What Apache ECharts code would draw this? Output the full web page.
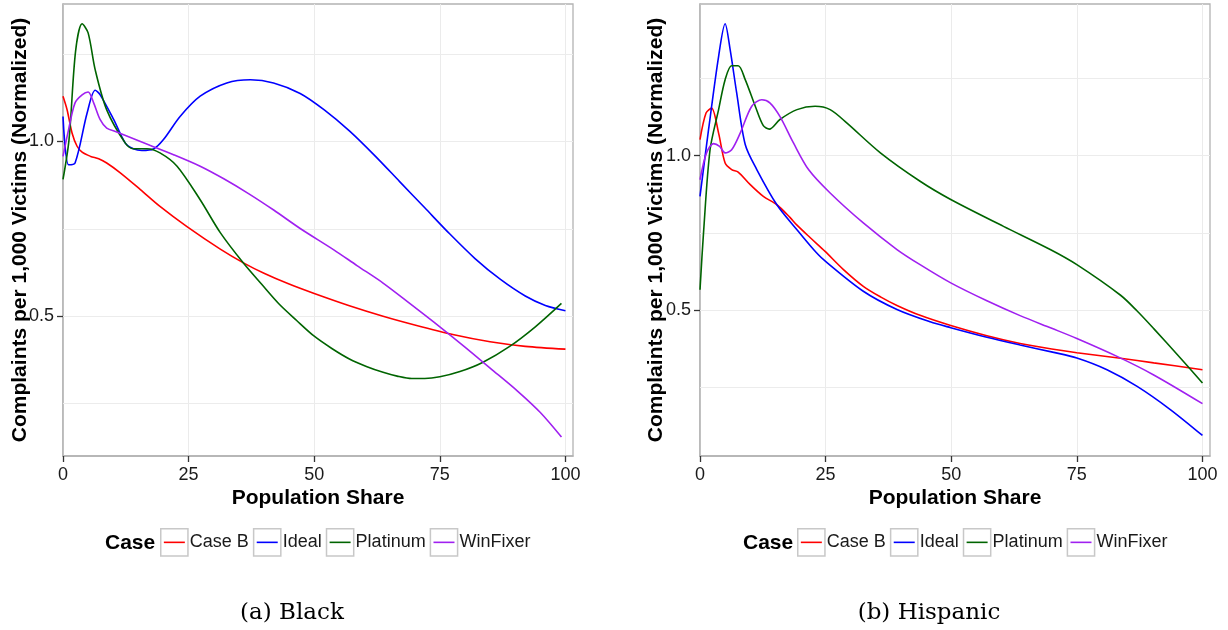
<!DOCTYPE html>
<html>
<head>
<meta charset="utf-8">
<script src="https://cdn.jsdelivr.net/npm/echarts@6/dist/echarts.min.js"></script>
<style>
html,body{margin:0;padding:0;background:#fff;}
#chart{width:1228px;height:630px;}
</style>
</head>
<body>
<div id="chart"></div>
<script>
// ---- Data ----
const seriesNames = ['Case B', 'Ideal', 'Platinum', 'WinFixer'];
const xTicks = [0, 25, 50, 75, 100];
const yTicks = [0.5, 1.0];
const yGridLines = [0.25, 0.5, 0.75, 1.0, 1.25];

// (a) Black
const blackCaseBX = [0, 0.8, 1.8, 2.8, 3.8, 5.5, 7.1, 8.7, 11.4, 15.4, 19.3, 24.6, 31.3, 36, 40, 45, 50, 57, 63.7, 70, 77.8, 85, 92, 100];
const blackCaseBY = [1.129, 1.091, 1.024, 0.986, 0.969, 0.957, 0.950, 0.938, 0.910, 0.862, 0.814, 0.757, 0.692, 0.652, 0.623, 0.592, 0.565, 0.530, 0.500, 0.475, 0.447, 0.427, 0.414, 0.406];

const blackIdealX = [0, 1.1, 2.4, 4.8, 6.4, 7.4, 10.1, 12.4, 14.0, 15.7, 18.0, 20.0, 23.3, 27.3, 32.6, 37.3, 41.9, 47.2, 52, 57, 62, 67, 72, 77, 82, 87, 92, 96, 100];
const blackIdealY = [1.071, 0.933, 0.938, 1.081, 1.146, 1.133, 1.062, 0.995, 0.979, 0.974, 0.978, 1.005, 1.071, 1.129, 1.167, 1.176, 1.167, 1.137, 1.090, 1.030, 0.960, 0.885, 0.810, 0.735, 0.665, 0.606, 0.558, 0.531, 0.516];

const blackPlatinumX = [0, 1.2, 2.5, 3.8, 5.0, 6.4, 8.7, 12.4, 14.0, 16.7, 19.3, 22.7, 27.3, 31.3, 35.9, 39.5, 43, 46.5, 50, 53.5, 57, 60.5, 63.7, 66.5, 69.4, 72, 75, 79, 83.5, 88.9, 94, 99.2];
const blackPlatinumY = [0.891, 1.005, 1.257, 1.336, 1.310, 1.205, 1.090, 0.995, 0.979, 0.979, 0.967, 0.929, 0.833, 0.739, 0.652, 0.592, 0.535, 0.488, 0.443, 0.408, 0.378, 0.356, 0.340, 0.329, 0.322, 0.322, 0.327, 0.342, 0.368, 0.414, 0.470, 0.537];

const blackWinFixerX = [0, 1.1, 2.4, 3.8, 5.0, 6.1, 7.4, 8.7, 10.7, 17.4, 22, 27.3, 32, 37, 42, 47.2, 53.9, 58.5, 63.7, 69, 75, 80, 85, 90.4, 95, 99.2];
const blackWinFixerY = [0.957, 1.033, 1.110, 1.133, 1.141, 1.110, 1.062, 1.038, 1.027, 0.988, 0.962, 0.929, 0.893, 0.850, 0.803, 0.751, 0.690, 0.645, 0.595, 0.537, 0.470, 0.412, 0.352, 0.287, 0.225, 0.155];

// (b) Hispanic
const hispCaseBX = [0, 1.2, 2.3, 3.7, 5.0, 6.3, 7.6, 10, 12.6, 15.3, 17.9, 19.3, 21.9, 24.9, 28.5, 32.5, 36, 39.2, 43.8, 49.9, 57.1, 63.7, 70, 75, 83.7, 90.3, 100];
const hispCaseBY = [1.052, 1.138, 1.154, 1.073, 0.976, 0.955, 0.947, 0.906, 0.868, 0.841, 0.800, 0.775, 0.735, 0.690, 0.632, 0.577, 0.542, 0.515, 0.483, 0.450, 0.417, 0.392, 0.374, 0.362, 0.344, 0.329, 0.307];

const hispIdealX = [0, 1.7, 3.7, 5.0, 6.0, 7.3, 9.0, 11.3, 15.3, 19.3, 22.6, 24.6, 32.5, 39.2, 45.8, 49.9, 57.1, 63.7, 70.4, 75, 81, 87, 93.6, 100];
const hispIdealY = [0.868, 1.084, 1.321, 1.427, 1.343, 1.203, 1.036, 0.955, 0.841, 0.760, 0.696, 0.663, 0.561, 0.502, 0.462, 0.443, 0.412, 0.387, 0.363, 0.345, 0.307, 0.253, 0.178, 0.094];

const hispPlatinumX = [0, 0.7, 2.0, 3.7, 5.0, 6.3, 7.6, 9.0, 11.0, 12.6, 13.8, 15.9, 19.3, 22.9, 25.9, 29.2, 35.9, 43.8, 49.9, 60.4, 69.7, 75, 83.7, 87, 90.3, 95.6, 100];
const hispPlatinumY = [0.566, 0.750, 1.019, 1.149, 1.246, 1.291, 1.291, 1.246, 1.160, 1.097, 1.086, 1.117, 1.149, 1.160, 1.149, 1.106, 1.009, 0.917, 0.858, 0.771, 0.696, 0.647, 0.548, 0.497, 0.440, 0.345, 0.264];

const hispWinFixerX = [0, 1.3, 2.7, 3.9, 5.0, 6.3, 8.0, 10.3, 12.3, 13.9, 15.9, 18.6, 21.6, 25.9, 32.5, 39.2, 43.8, 49.9, 57.1, 63.7, 70, 75, 83, 90.3, 100];
const hispWinFixerY = [0.922, 1.009, 1.039, 1.030, 1.009, 1.019, 1.073, 1.160, 1.181, 1.171, 1.127, 1.041, 0.955, 0.879, 0.782, 0.696, 0.647, 0.588, 0.530, 0.482, 0.441, 0.408, 0.350, 0.290, 0.197];

// ---- Styling ----
const colors = {'Case B': '#ff0000', 'Ideal': '#0000ff', 'Platinum': '#006400', 'WinFixer': '#a020f0'};
const FONT = '"Liberation Sans", Arial, Helvetica, sans-serif';
const SERIF = '"DejaVu Serif", serif';

const pairs = (xs, ys) => xs.map((x, i) => [x, ys[i]]);

const panels = [
  {left: 63, yMin: 0.1006, yMax: 1.3926, nameGap: 32,
   data: {'Case B': [blackCaseBX, blackCaseBY], 'Ideal': [blackIdealX, blackIdealY], 'Platinum': [blackPlatinumX, blackPlatinumY], 'WinFixer': [blackWinFixerX, blackWinFixerY]}},
  {left: 700, yMin: 0.0275, yMax: 1.491, nameGap: 33,
   data: {'Case B': [hispCaseBX, hispCaseBY], 'Ideal': [hispIdealX, hispIdealY], 'Platinum': [hispPlatinumX, hispPlatinumY], 'WinFixer': [hispWinFixerX, hispWinFixerY]}}
];

const grids = [], xAxes = [], yAxes = [], series = [];
panels.forEach((p, gi) => {
  grids.push({left: p.left, top: 4, width: 510, height: 452, show: true, borderColor: '#b3b3b3', borderWidth: 1.3, backgroundColor: '#fff', containLabel: false});
  xAxes.push({
    type: 'value', gridIndex: gi, min: 0, max: 101.5, interval: 25,
    name: 'Population Share', nameLocation: 'middle', nameGap: 32, nameMoveOverlap: false,
    nameTextStyle: {fontFamily: FONT, fontSize: 21, fontWeight: 'bold', color: '#000'},
    axisLine: {show: true, onZero: false, lineStyle: {color: '#b3b3b3', width: 1.5}},
    axisTick: {show: true, length: 6, customValues: xTicks, lineStyle: {color: '#333', width: 1.3}},
    axisLabel: {customValues: xTicks, margin: 10, fontFamily: FONT, fontSize: 18, color: '#1a1a1a'},
    splitLine: {show: true, lineStyle: {color: '#ebebeb', width: 1}}
  });
  yAxes.push({
    type: 'value', gridIndex: gi, min: p.yMin, max: p.yMax,
    name: 'Complaints per 1,000 Victims (Normalized)', nameLocation: 'middle', nameGap: p.nameGap, nameMoveOverlap: false,
    nameTextStyle: {fontFamily: FONT, fontSize: 21, fontWeight: 'bold', color: '#000'},
    axisLine: {show: true, onZero: false, lineStyle: {color: '#b3b3b3', width: 1.5}},
    axisTick: {show: true, length: 6, customValues: yTicks, lineStyle: {color: '#333', width: 1.3}},
    axisLabel: {customValues: yTicks, margin: 9, fontFamily: FONT, fontSize: 18, color: '#1a1a1a', formatter: v => v.toFixed(1)},
    splitLine: {show: false}
  });
  seriesNames.forEach((nm, si) => {
    const d = p.data[nm];
    const s = {
      name: nm, type: 'line', xAxisIndex: gi, yAxisIndex: gi,
      data: pairs(d[0], d[1]), smooth: 0.3, symbol: 'rect', showSymbol: false,
      lineStyle: {color: colors[nm], width: 1.6}, itemStyle: {color: colors[nm]},
      emphasis: {disabled: true}, animation: false, z: 3
    };
    if (si === 0) {
      s.markLine = {
        silent: true, symbol: 'none', animation: false, z: 1,
        label: {show: false},
        lineStyle: {color: '#ececec', type: 'solid', width: 1},
        data: yGridLines.map(v => ({yAxis: v}))
      };
    }
    series.push(s);
  });
});

const legendCommon = {
  orient: 'horizontal', top: 523, itemWidth: 21, itemHeight: 34, itemGap: 4,
  data: seriesNames, selectedMode: false,
  textStyle: {fontFamily: FONT, fontSize: 18, color: '#1a1a1a'},
  itemStyle: {color: 'rgba(0,0,0,0)', borderColor: '#c8c8c8', borderWidth: 1.5},
  lineStyle: {width: 1.6}
};

const chart = echarts.init(document.getElementById('chart'), null, {renderer: 'canvas'});
chart.setOption({
  backgroundColor: '#fff',
  animation: false,
  grid: grids, xAxis: xAxes, yAxis: yAxes, series: series,
  legend: [Object.assign({left: 155}, legendCommon), Object.assign({left: 792}, legendCommon)],
  graphic: [
    {type: 'text', left: 105, top: 533, style: {text: 'Case', fontFamily: FONT, fontSize: 21, fontWeight: 'bold', fill: '#000'}},
    {type: 'text', left: 743, top: 533, style: {text: 'Case', fontFamily: FONT, fontSize: 21, fontWeight: 'bold', fill: '#000'}},
    {type: 'text', x: 292, y: 613, style: {text: '(a) Black', fontFamily: SERIF, fontSize: 23, fill: '#000', align: 'center', verticalAlign: 'middle'}},
    {type: 'text', x: 929, y: 613, style: {text: '(b) Hispanic', fontFamily: SERIF, fontSize: 23, fill: '#000', align: 'center', verticalAlign: 'middle'}}
  ]
});
</script>
</body>
</html>
